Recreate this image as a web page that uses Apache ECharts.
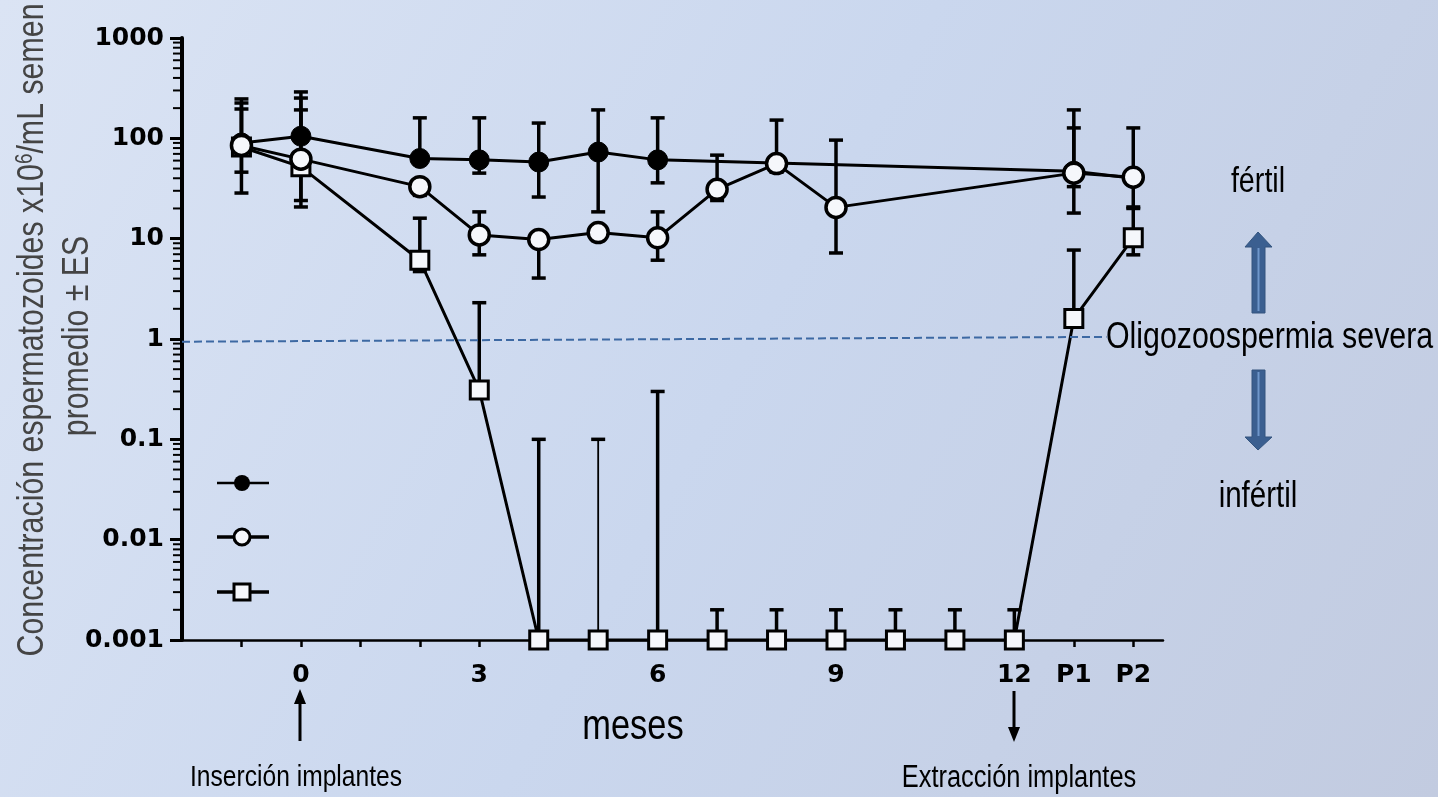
<!DOCTYPE html>
<html><head><meta charset="utf-8">
<script src="https://cdn.jsdelivr.net/npm/echarts@6/dist/echarts.min.js"></script>
<style>html,body{margin:0;padding:0;background:#cfdaef;}#c{width:1438px;height:797px;}</style>
</head><body><div id="c"></div>
<script>
// ---- axis ticks / labels ----
const xTickValues = [-1,0,1,2,3,4,5,6,7,8,9,10,11,12,13,14];
const xLabelValues = [0,3,6,9,12,13,14];
const xLabelText = ['0','3','6','9','12','P1','P2'];
const yTickValues = [0.001,0.01,0.1,1,10,100,1000];
const yTickText = ['0.001','0.01','0.1','1','10','100','1000'];

// ---- series: filled circles ----
const filledX   = [-1, 0, 2, 3, 4, 5, 6, 13, 14];
const filledY   = [90, 105, 63, 61, 58, 73, 61, 47, 40];
const filledUp  = [247, 290, 160, 160, 142, 192, 160, 192, 127];
const filledLow = [46, null, null, 45, 26, 18.5, 36, 18, null];

// ---- series: open circles ----
const openX   = [-1, 0, 2, 3, 4, 5, 6, 7, 8, 9, 13, 14];
const openY   = [85, 62, 33, 10.9, 9.8, 11.5, 10.2, 31, 56, 20.5, 45, 41];
const openUp  = [225, 252, null, 18.5, null, null, 18.5, 68, 152, 96, 127, null];
const openLow = [28.5, 24, 27, 6.9, 4.05, 9.6, 6.1, 24, 46, 7.2, 33, 20.7];

// ---- series: open squares ----
const squareX   = [-1, 0, 2, 3, 4, 5, 6, 7, 8, 9, 10, 11, 12, 13, 14];
const squareY   = [82, 52, 6.1, 0.31, 0.001, 0.001, 0.001, 0.001, 0.001, 0.001, 0.001, 0.001, 0.001, 1.6, 10.2];
const squareUp  = [196, 192, 16, 2.3, 0.1, 0.1, 0.3, 0.002, 0.002, 0.002, 0.002, 0.002, 0.002, 7.7, 20];
const squareLow = [null, 20.7, 4.7, null, null, null, null, null, null, null, null, null, null, null, 6.9];

// threshold line (Oligozoospermia severa)
const thresholdStart = [-2, 0.94];
const thresholdEnd = [13.55, 1.05];

// minor log ticks on y axis
const minorTicks = [];
for (let k = -3; k < 3; k++) for (let m = 2; m <= 9; m++) minorTicks.push(+(m * Math.pow(10, k)).toPrecision(3));

const SANS = "'Liberation Sans',Arial,sans-serif";
const NARROW_SCALE = 0.82;
const BOLD = "'DejaVu Sans',sans-serif";

function pairs(xs, ys) { return xs.map((x, i) => [x, ys[i]]); }
function errRows(key, xs, ys, up, low) {
  const rows = [];
  xs.forEach((x, i) => {
    if (up[i] != null) rows.push([x, ys[i], up[i], key]);
    if (low[i] != null) rows.push([x, ys[i], low[i], key]);
  });
  return rows;
}
const errData = [].concat(
  errRows('A', filledX, filledY, filledUp, filledLow),
  errRows('B', openX, openY, openUp, openLow),
  errRows('C', squareX, squareY, squareUp, squareLow)
);

function narrowText(x, y, text, size, align, extra) {
  return Object.assign({type: 'text', x: x, y: y, scaleX: NARROW_SCALE, silent: true,
    style: {text: text, fill: '#000', font: size + 'px ' + SANS, align: align || 'center', verticalAlign: 'middle'}}, extra || {});
}

const chart = echarts.init(document.getElementById('c'), null, {renderer: 'canvas'});

const option = {
  backgroundColor: new echarts.graphic.LinearGradient(0, 0, 1, 1, [
    {offset: 0, color: '#dbe4f4'},
    {offset: 0.5, color: '#cad7ee'},
    {offset: 1, color: '#c2cbe0'}
  ]),
  animation: false,
  grid: {left: 182, right: 275, top: 38, bottom: 157},
  xAxis: {
    type: 'value', min: -2, max: 14.5,
    splitLine: {show: false},
    axisLine: {onZero: false, lineStyle: {color: '#000', width: 2.5}},
    axisTick: {customValues: xTickValues, length: 7, lineStyle: {color: '#000', width: 2.5}},
    axisLabel: {
      customValues: xLabelValues,
      formatter: v => xLabelText[xLabelValues.indexOf(v)],
      color: '#000', fontFamily: BOLD, fontWeight: 'bold', fontSize: 25, margin: 23
    }
  },
  yAxis: {
    type: 'log', logBase: 10, min: 0.001, max: 1000,
    splitLine: {show: false},
    axisLine: {onZero: false, lineStyle: {color: '#000', width: 4}},
    axisTick: {length: 12, lineStyle: {color: '#000', width: 3}},
    axisLabel: {
      formatter: v => { const i = yTickValues.findIndex(t => Math.abs(Math.log10(t) - Math.log10(v)) < 1e-6); return i >= 0 ? yTickText[i] : ''; },
      color: '#000', fontFamily: BOLD, fontWeight: 'bold', fontSize: 25, margin: 18
    }
  },
  series: [
    {
      type: 'custom', name: 'minorTicks', silent: true, clip: false, z: 5,
      data: minorTicks.map(v => [-2, v]),
      renderItem: (params, api) => {
        const p = api.coord([api.value(0), api.value(1)]);
        return {type: 'line', shape: {x1: p[0] - 9, y1: p[1], x2: p[0], y2: p[1]}, style: {stroke: '#000', lineWidth: 2}};
      }
    },
    {
      type: 'custom', name: 'errorBars', silent: true, clip: false, z: 2,
      data: errData,
      dimensions: ['x', 'y', 'bound', 'key'],
      renderItem: (params, api) => {
        const x = api.value(0), y = api.value(1), b = api.value(2), key = errData[params.dataIndex][3];
        const p0 = api.coord([x, y]), p1 = api.coord([x, b]);
        const w = (key === 'C' && x === 5) ? 1.8 : 3.5;
        return {type: 'group', children: [
          {type: 'line', shape: {x1: p0[0], y1: p0[1], x2: p1[0], y2: p1[1]}, style: {stroke: '#000', lineWidth: w}},
          {type: 'line', shape: {x1: p1[0] - 7, y1: p1[1], x2: p1[0] + 7, y2: p1[1]}, style: {stroke: '#000', lineWidth: 3.5}}
        ]};
      }
    },
    {
      type: 'line', name: 'C', data: pairs(squareX, squareY), z: 3,
      symbol: 'rect', symbolSize: 18,
      lineStyle: {color: '#000', width: 3},
      itemStyle: {color: '#f5f7fb', borderColor: '#000', borderWidth: 3},
      markLine: {
        silent: true, symbol: 'none', label: {show: false}, animation: false,
        lineStyle: {color: '#3d69a3', width: 2, type: [8, 4]},
        data: [[{coord: thresholdStart}, {coord: thresholdEnd}]]
      }
    },
    {
      type: 'line', name: 'A', data: pairs(filledX, filledY), z: 3,
      symbol: 'circle', symbolSize: 20,
      lineStyle: {color: '#000', width: 3},
      itemStyle: {color: '#000', borderColor: '#000', borderWidth: 1}
    },
    {
      type: 'line', name: 'B', data: pairs(openX, openY), z: 4,
      symbol: 'circle', symbolSize: 20,
      lineStyle: {color: '#000', width: 3},
      itemStyle: {color: '#f5f7fb', borderColor: '#000', borderWidth: 3.5}
    }
  ],
  graphic: [
    // y axis title
    {type: 'text', x: 33, y: 330, rotation: Math.PI / 2, scaleX: NARROW_SCALE, silent: true,
     style: {text: 'Concentración espermatozoides x10{sup|6}/mL semen', fill: '#444', font: '37px ' + SANS,
             align: 'center', verticalAlign: 'middle',
             rich: {sup: {fontSize: 23, fontFamily: SANS, fill: '#444', verticalAlign: 'top', padding: [0, 0, 12, 0]}}}},
    {type: 'text', x: 78, y: 336, rotation: Math.PI / 2, scaleX: NARROW_SCALE, silent: true,
     style: {text: 'promedio ± ES', fill: '#444', font: '37px ' + SANS, align: 'center', verticalAlign: 'middle'}},
    // legend (symbols only)
    {type: 'line', shape: {x1: 217, y1: 483, x2: 269, y2: 483}, style: {stroke: '#000', lineWidth: 2.5}},
    {type: 'circle', shape: {cx: 242, cy: 483, r: 8}, style: {fill: '#000'}},
    {type: 'line', shape: {x1: 217, y1: 537, x2: 269, y2: 537}, style: {stroke: '#000', lineWidth: 3.5}},
    {type: 'circle', shape: {cx: 242, cy: 537, r: 8}, style: {fill: '#f5f7fb', stroke: '#000', lineWidth: 3}},
    {type: 'line', shape: {x1: 217, y1: 592, x2: 269, y2: 592}, style: {stroke: '#000', lineWidth: 3.5}},
    {type: 'rect', shape: {x: 234, y: 584, width: 16, height: 16}, style: {fill: '#f5f7fb', stroke: '#000', lineWidth: 3}},
    // labels
    narrowText(633, 727, 'meses', 42),
    narrowText(296, 778, 'Inserción implantes', 30),
    narrowText(1019, 778, 'Extracción implantes', 31),
    narrowText(1106, 338, 'Oligozoospermia severa', 37, 'left'),
    narrowText(1258, 182, 'fértil', 35),
    narrowText(1258, 497, 'infértil', 36),
    // black arrows
    {type: 'line', shape: {x1: 300, y1: 741, x2: 300, y2: 700}, style: {stroke: '#000', lineWidth: 3}},
    {type: 'polygon', shape: {points: [[300, 689], [294, 704], [306, 704]]}, style: {fill: '#000'}},
    {type: 'line', shape: {x1: 1014, y1: 691, x2: 1014, y2: 730}, style: {stroke: '#000', lineWidth: 3}},
    {type: 'polygon', shape: {points: [[1014, 742], [1008, 727], [1020, 727]]}, style: {fill: '#000'}},
    // blue arrows
    {type: 'polygon', shape: {points: [[1258, 232], [1272, 247], [1265, 247], [1265, 313], [1252, 313], [1252, 247], [1245, 247]]},
     style: {fill: '#3b5f90', stroke: '#34557f', lineWidth: 1}},
    {type: 'line', shape: {x1: 1258.5, y1: 248, x2: 1258.5, y2: 311}, style: {stroke: '#6f97cb', lineWidth: 2}},
    {type: 'polygon', shape: {points: [[1258, 450], [1272, 437], [1265, 437], [1265, 370], [1252, 370], [1252, 437], [1245, 437]]},
     style: {fill: '#3b5f90', stroke: '#34557f', lineWidth: 1}},
    {type: 'line', shape: {x1: 1258.5, y1: 372, x2: 1258.5, y2: 436}, style: {stroke: '#6f97cb', lineWidth: 2}}
  ]
};
chart.setOption(option);
</script></body></html>
